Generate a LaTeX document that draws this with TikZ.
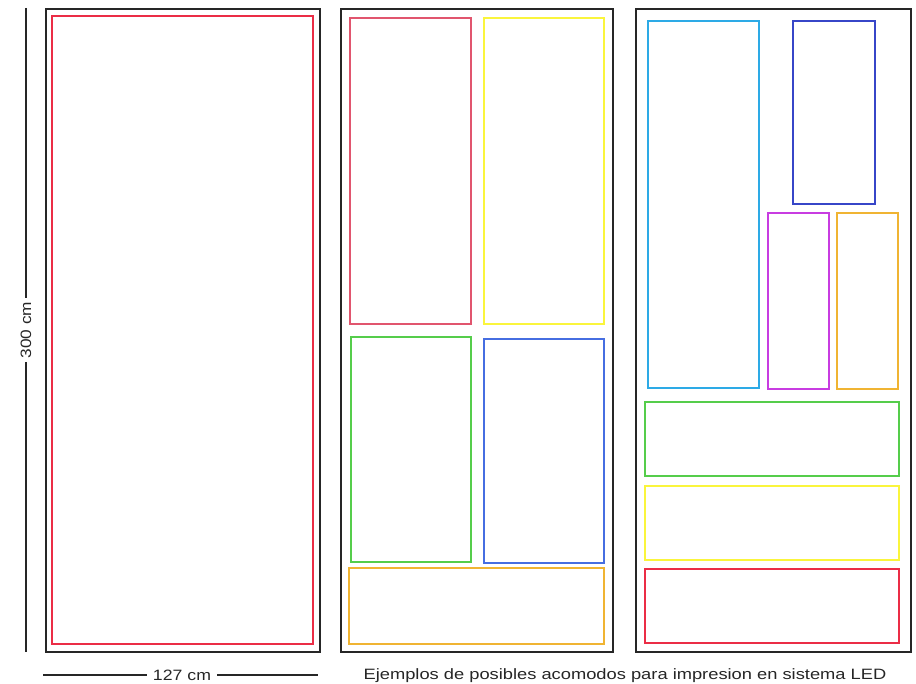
\documentclass[tikz,border=0pt]{standalone}
\usepackage{fontspec}
\setmainfont{Liberation Sans}
\definecolor{cred}{RGB}{235,45,70}
\definecolor{cpink}{RGB}{225,85,110}
\definecolor{cyel}{RGB}{250,245,60}
\definecolor{cgreen}{RGB}{85,205,75}
\definecolor{cblue}{RGB}{70,110,225}
\definecolor{ccyan}{RGB}{45,170,230}
\definecolor{cdblue}{RGB}{55,70,200}
\definecolor{cmag}{RGB}{200,60,225}
\definecolor{corange}{RGB}{240,180,50}
\begin{document}
\begin{tikzpicture}[x=1pt,y=-1pt,
  frame/.style={draw=black!85,line width=2.6pt},
  panel/.style={line width=1.8pt},
  dim/.style={draw=black!85,line width=1.3pt},
  lbl/.style={font=\fontsize{15}{15}\selectfont,text=black!85,inner sep=1pt}]
\useasboundingbox (0,0) rectangle (916,684);
% frames
\draw[frame] (46,9) rectangle (320,652);
\draw[frame] (341,9) rectangle (613,652);
\draw[frame] (636,9) rectangle (911,652);
% frame 1
\draw[panel,draw=cred] (52,16) rectangle (313,644);
% frame 2
\draw[panel,draw=cpink] (350,18) rectangle (471,324);
\draw[panel,draw=cyel] (484,18) rectangle (604,324);
\draw[panel,draw=cgreen] (351,337) rectangle (471,562);
\draw[panel,draw=cblue] (484,339) rectangle (604,563);
\draw[panel,draw=corange] (349,568) rectangle (604,644);
% frame 3
\draw[panel,draw=ccyan] (648,21) rectangle (759,388);
\draw[panel,draw=cdblue] (793,21) rectangle (875,204);
\draw[panel,draw=cmag] (768,213) rectangle (829,389);
\draw[panel,draw=corange] (837,213) rectangle (898,389);
\draw[panel,draw=cgreen] (645,402) rectangle (899,476);
\draw[panel,draw=cyel] (645,486) rectangle (899,560);
\draw[panel,draw=cred] (645,569) rectangle (899,643);
% dimensions
\coordinate (vt) at (26,8);
\coordinate (vb) at (26,652);
\node[lbl,rotate=90,xscale=1.15,inner xsep=3pt] (vlab) at (26,330) {300 cm};
\draw[dim] (vt) -- (vlab.east);
\draw[dim] (vlab.west) -- (vb);
\coordinate (hl) at (43,675);
\coordinate (hr) at (318,675);
\node[lbl,xscale=1.18,inner xsep=5pt] (hlab) at (182,675) {127 cm};
\draw[dim] (hl) -- (hlab.west);
\draw[dim] (hlab.east) -- (hr);
\node[lbl,xscale=1.22] (cap) at (625,676) {Ejemplos de posibles acomodos para impresion en sistema LED};
\end{tikzpicture}
\end{document}
